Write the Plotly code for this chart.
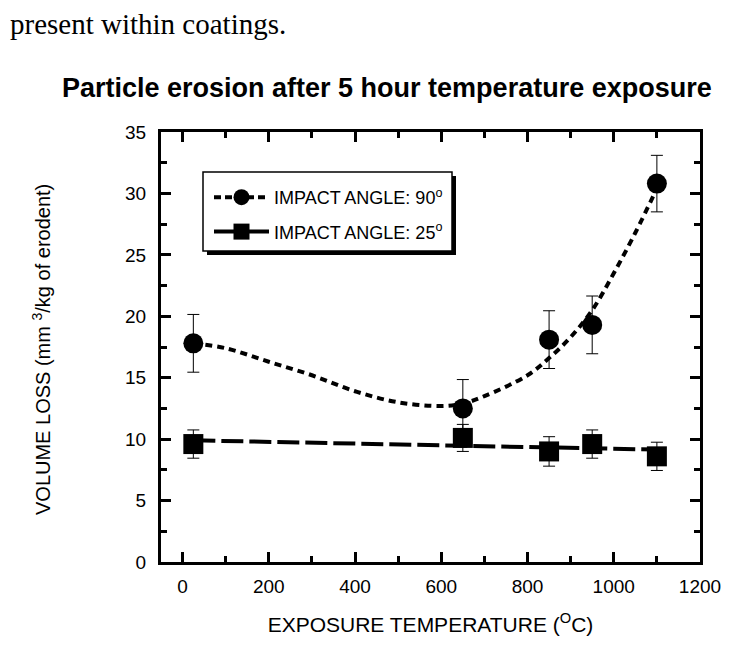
"""Particle erosion after 5 hour temperature exposure — volume loss vs exposure temperature."""

import plotly.graph_objects as go

# measured points
temp = [25, 650, 850, 950, 1100]
loss_90 = [17.8, 12.5, 18.1, 19.3, 30.8]
err_90 = [2.35, 2.35, 2.35, 2.35, 2.3]
loss_25 = [9.6, 10.1, 9.0, 9.6, 8.6]
err_25 = [1.15, 1.1, 1.2, 1.15, 1.15]

# fitted curves
fit_x_90 = [25, 100, 200, 300, 400, 500, 600, 650, 700, 800, 850, 900, 950, 1000, 1050, 1100]
fit_y_90 = [17.8, 17.4, 16.3, 15.2, 13.9, 13.0, 12.7, 12.9, 13.5, 15.2, 16.6, 18.3, 20.5, 23.5, 26.8, 30.4]
fit_x_25 = [25, 1100]
fit_y_25 = [9.9, 9.15]

x_ticks = [0, 200, 400, 600, 800, 1000, 1200]
y_ticks = [0, 5, 10, 15, 20, 25, 30, 35]

FONT = "Liberation Sans, Arial, sans-serif"

# the page puts the figure 8px in from the top left corner
W, H = 726, 638
L, R, T, B = 153, 34, 124, 84
PW, PH = W - L - R, H - T - B


def px(x):
    """Reference-image x pixel -> paper x."""
    return (x - 161) / PW


def py(y):
    """Reference-image y pixel -> paper y."""
    return (562 - y) / PH


fig = go.Figure()

fig.add_trace(
    go.Scatter(
        x=fit_x_90,
        y=fit_y_90,
        mode="lines",
        line=dict(color="black", width=4, dash="7px,5px", shape="spline"),
        showlegend=False,
        hoverinfo="skip",
    )
)
fig.add_trace(
    go.Scatter(
        x=fit_x_25,
        y=fit_y_25,
        mode="lines",
        line=dict(color="black", width=4, dash="22px,6px"),
        showlegend=False,
        hoverinfo="skip",
    )
)
fig.add_trace(
    go.Scatter(
        x=temp,
        y=loss_90,
        mode="markers",
        marker=dict(symbol="circle", size=20, color="black"),
        error_y=dict(type="data", array=err_90, color="black", thickness=1, width=6),
        showlegend=False,
    )
)
fig.add_trace(
    go.Scatter(
        x=temp,
        y=loss_25,
        mode="markers",
        marker=dict(symbol="square", size=20, color="black"),
        error_y=dict(type="data", array=err_25, color="black", thickness=1, width=6),
        showlegend=False,
    )
)

# legend-only entries
fig.add_trace(
    go.Scatter(
        x=[None],
        y=[None],
        mode="lines+markers",
        name="IMPACT ANGLE: 90<sup>o</sup>",
        line=dict(color="black", width=4, dash="7px,4px"),
        marker=dict(symbol="circle", size=21, color="black"),
        legendgroup="a",
    )
)
fig.add_trace(
    go.Scatter(
        x=[None],
        y=[None],
        mode="lines+markers",
        name="IMPACT ANGLE: 25<sup>o</sup>",
        line=dict(color="black", width=4),
        marker=dict(symbol="square", size=20, color="black"),
        legendgroup="b",
    )
)

axis_common = dict(
    showline=True,
    linecolor="black",
    linewidth=3,
    mirror="ticks",
    ticks="inside",
    ticklen=10,
    tickwidth=2.5,
    tickcolor="black",
    showgrid=False,
    zeroline=False,
    tickfont=dict(family=FONT, size=19, color="black"),
)

fig.update_xaxes(
    range=[-50, 1200],
    tickvals=x_ticks,
    minor=dict(dtick=100, ticks="inside", ticklen=6, tickwidth=2.5, tickcolor="black"),
    ticklabelstandoff=5,
    title=dict(
        text="EXPOSURE TEMPERATURE (<sup>O</sup>C)",
        font=dict(family=FONT, size=21, color="black"),
        standoff=22,
    ),
    **axis_common,
)
fig.update_yaxes(
    range=[0, 35],
    tickvals=y_ticks,
    minor=dict(dtick=2.5, ticks="inside", ticklen=6, tickwidth=2.5, tickcolor="black"),
    ticklabelstandoff=8,
    **axis_common,
)

# legend frame with drop shadow
fig.add_shape(
    type="rect",
    xref="paper",
    yref="paper",
    x0=px(207),
    x1=px(456),
    y0=py(255),
    y1=py(176),
    fillcolor="black",
    line=dict(width=0),
    layer="below",
)
fig.add_shape(
    type="rect",
    xref="paper",
    yref="paper",
    x0=px(203),
    x1=px(452),
    y0=py(251),
    y1=py(172),
    fillcolor="white",
    line=dict(color="black", width=1.5),
    layer="below",
)

fig.update_layout(
    width=W,
    height=H,
    margin=dict(l=L, r=R, t=T, b=B),
    paper_bgcolor="white",
    plot_bgcolor="white",
    font=dict(family=FONT, color="black"),
    legend=dict(
        x=px(209),
        y=py(179),
        xanchor="left",
        yanchor="top",
        bgcolor="rgba(0,0,0,0)",
        borderwidth=0,
        font=dict(family=FONT, size=18, color="black"),
        itemwidth=55,
        tracegroupgap=8,
    ),
    annotations=[
        dict(
            text="present within coatings.",
            xref="paper",
            yref="paper",
            x=-L / PW,
            y=py(24),
            xanchor="left",
            yanchor="middle",
            showarrow=False,
            font=dict(family="Liberation Serif, Times New Roman, serif", size=29, color="black"),
        ),
        dict(
            text="<b>Particle erosion after 5 hour temperature exposure</b>",
            xref="paper",
            yref="paper",
            x=px(387),
            y=py(88),
            xanchor="center",
            yanchor="middle",
            showarrow=False,
            font=dict(family=FONT, size=27, color="black"),
        ),
        dict(
            text="VOLUME LOSS (mm <sup>3</sup>/kg of erodent)",
            xref="paper",
            yref="paper",
            x=px(41),
            y=py(350),
            xanchor="center",
            yanchor="middle",
            textangle=-90,
            showarrow=False,
            font=dict(family=FONT, size=20, color="black"),
        ),
    ],
)

fig.write_html("out.html")

# ========================= EOF ====================================================================
